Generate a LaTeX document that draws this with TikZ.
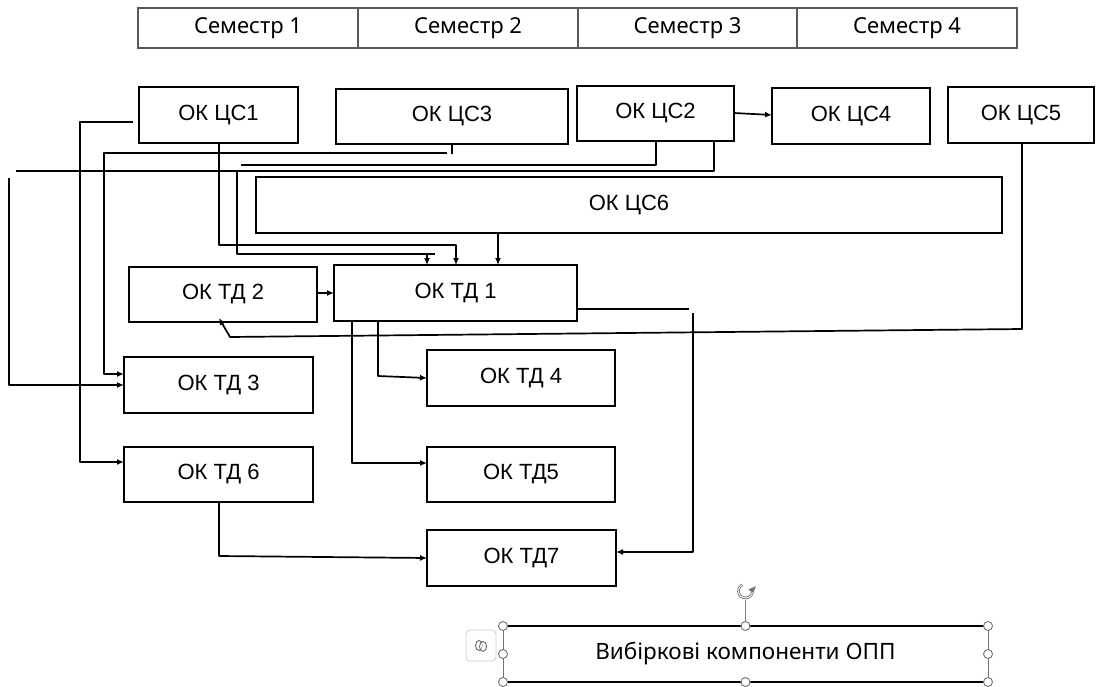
\documentclass[tikz,border=0pt]{standalone}
\usepackage{fontspec}
\setmainfont{Liberation Sans}
\newfontfamily\notosans{Noto Sans}
\usetikzlibrary{arrows.meta,calc}
\begin{document}
\begin{tikzpicture}[x=1pt,y=-1pt,
  box/.style={draw=black, line width=1.8pt, fill=white, inner sep=0pt, outer sep=0pt, anchor=north west, font=\fontsize{22}{26}\selectfont},
  sem/.style={draw=black!65, line width=1.1pt, inner sep=0pt, outer sep=0pt, anchor=north west, minimum height=40pt, font=\notosans\fontsize{22}{26}\selectfont},
  conn/.style={line width=1.7pt, line join=round},
  arr/.style={conn, -{Latex[length=7pt,width=6pt]}},
  handle/.style={circle, draw=black!55, fill=white, line width=0.9pt, minimum size=9pt, inner sep=0pt}]
\useasboundingbox (0,0) rectangle (1097,687);
\fill[white] (0,0) rectangle (1097,687);

% semester table
\node[sem, minimum width=220pt] (sem1) at (138,8) {Семестр 1};
\node[sem, minimum width=220pt] (sem2) at (358,8) {Семестр 2};
\node[sem, minimum width=219pt] (sem3) at (578,8) {Семестр 3};
\node[sem, minimum width=220pt] (sem4) at (797,8) {Семестр 4};

% top row
\node[box, minimum width=159pt, minimum height=56pt] (cs1) at (139,87) {ОК ЦС1};
\node[box, minimum width=232pt, minimum height=55pt] (cs3) at (336,89) {ОК ЦС3};
\node[box, minimum width=157pt, minimum height=55pt] (cs2) at (577,86) {ОК ЦС2};
\node[box, minimum width=158pt, minimum height=56pt] (cs4) at (772,88) {ОК ЦС4};
\node[box, minimum width=146pt, minimum height=56pt] (cs5) at (948,87) {ОК ЦС5};
\node[box, minimum width=746pt, minimum height=56pt] (cs6) at (256,177) {ОК ЦС6};

% lower boxes
\node[box, minimum width=188pt, minimum height=55pt] (td2) at (129,267) {ОК ТД 2};
\node[box, minimum width=243pt, minimum height=56pt] (td1) at (334,265) {ОК ТД 1};
\node[box, minimum width=189pt, minimum height=56pt] (td3) at (124,357) {ОК ТД 3};
\node[box, minimum width=188pt, minimum height=56pt] (td4) at (427,350) {ОК ТД 4};
\node[box, minimum width=189pt, minimum height=55pt] (td6) at (124,447) {ОК ТД 6};
\node[box, minimum width=188pt, minimum height=55pt] (td5) at (427,447) {ОК ТД5};
\node[box, minimum width=189pt, minimum height=56pt] (td7) at (427,530) {ОК ТД7};

% connectors
% ЦС1 left -> ТД6
\draw[arr] ($(cs1.west|-0,122)+(-6,0)$) -| (80,462) -- (td6.west|-0,462);
% ЦС3 -> ТД3
\draw[conn] (cs3.south-|452,0) -- (452,154);
\draw[arr] (447,153) -| (104,374) -- (td3.west|-0,374);
% ЦС2 stub 1 (dangling)
\coordinate (c2end) at (241,165);
\draw[conn] (cs2.south-|656,0) |- (c2end);
% ЦС2 stub 2
\coordinate (c2left) at (16,171);
\draw[conn] (cs2.south-|714,0) |- (c2left);
\draw[arr] (9,178) |- (td3.west|-0,385);
\draw[conn] (237,171) |- (435,254);
\draw[arr] (427,254) -- (td1.north-|427,0);
% ЦС1 bottom -> ТД1
\draw[arr] (cs1.south-|219,0) |- (456,245) -- (td1.north-|456,0);
% ЦС6 -> ТД1
\draw[arr] (cs6.south-|498,0) -- (td1.north-|498,0);
% ЦС2 -> ЦС4
\draw[arr] (cs2.east|-0,113) -- (cs4.west|-0,115);
% ЦС5 -> ТД2
\draw[arr] (cs5.south-|1022,0) -- (1022,329) -- (230,337) -- (219,318);
% ТД2 -> ТД1
\draw[arr] (td2.east|-0,293) -- (td1.west|-0,293);
% ТД1 -> ТД4, ТД5
\draw[arr] (td1.south-|378,0) -- (378,376) -- (td4.west|-0,378);
\draw[arr] (td1.south-|352,0) |- (td5.west|-0,463);
% ТД1 right -> ТД7
\coordinate (t1r) at (689,309);
\draw[conn] (td1.east|-0,309) -- (t1r);
\draw[arr] (693,313) |- (td7.east|-0,552);
% ТД6 -> ТД7
\draw[arr] (td6.south-|219,0) -- (219,556) -- (td7.west|-0,558);

% selected text box
\node[anchor=north west, minimum width=485pt, minimum height=56pt, inner sep=0pt, outer sep=0pt,
      font=\notosans\fontsize{22.5}{26}\selectfont] (opt) at (503,626) {Вибіркові компоненти ОПП};
\draw[line width=1.8pt] (opt.north west) -- (opt.north east) (opt.south west) -- (opt.south east);
\draw[black!55, line width=0.8pt] (opt.north west) -- (opt.south west) (opt.north east) -- (opt.south east);
\draw[black!50, line width=0.8pt] (opt.north) -- ++(0,-26) coordinate (roth);
\coordinate (rotc) at ($(roth)+(0,-9)$);
\draw[black!55, line width=2.6pt] ($(rotc)+(115:7pt)$) arc[start angle=115, end angle=385, radius=7pt];
\draw[white, line width=0.9pt] ($(rotc)+(115:7pt)$) arc[start angle=115, end angle=385, radius=7pt];
\fill[black!55] ($(rotc)+(25:3pt)$) -- ($(rotc)+(25:11.5pt)$) -- ($(rotc)+(-10:8pt)$) -- cycle;
\foreach \a/\n in {north west/a, north/b, north east/c, west/d, east/e, south west/f, south/g, south east/h}
  \node[handle] (hd\n) at (opt.\a) {};
\node[draw=black!20, fill=white, rounded corners=4pt, line width=0.8pt, minimum width=30pt, minimum height=31pt, inner sep=0pt] (lay) at (481,645.5) {};
\draw[black!60, line width=0.9pt] ($(lay.center)+(-2,0)$) ellipse[x radius=3.5pt, y radius=5pt];
\draw[black!60, line width=0.9pt, fill=white, fill opacity=0.6] ($(lay.center)+(2,1)$) ellipse[x radius=3.5pt, y radius=5pt];
\end{tikzpicture}
\end{document}
